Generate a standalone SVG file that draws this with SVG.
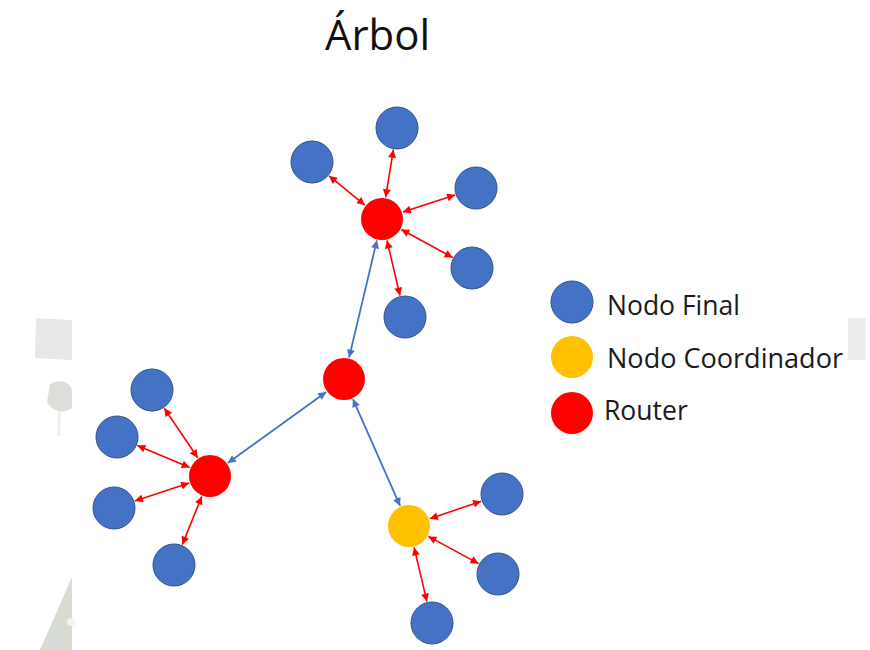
<svg xmlns="http://www.w3.org/2000/svg" width="870" height="650" viewBox="0 0 870 650">
  <style>
    .final { fill: #4472C4; stroke: #2F528F; stroke-width: 1; }
    .router { fill: #FF0000; }
    .coord { fill: #FFC000; }
    .lnk-red { stroke: #FF0000; stroke-width: 1.6; fill: none; marker-start: url(#headRed); marker-end: url(#headRed); }
    .lnk-blue { stroke: #4472C4; stroke-width: 1.8; fill: none; marker-start: url(#headBlue); marker-end: url(#headBlue); }
    .title { font-family: "Open Sans", "Liberation Sans", sans-serif; font-size: 42px; fill: #111; }
    .legend { font-family: "Open Sans", "Liberation Sans", sans-serif; font-size: 26.5px; fill: #1a1a1a; }
  </style>
  <defs>
    <marker id="headRed" viewBox="0 0 10 10" refX="10" refY="5" markerUnits="userSpaceOnUse" markerWidth="9" markerHeight="8" orient="auto-start-reverse">
      <path d="M0,0 L10,5 L0,10 z" fill="#FF0000"/>
    </marker>
    <marker id="headBlue" viewBox="0 0 10 10" refX="10" refY="5" markerUnits="userSpaceOnUse" markerWidth="10" markerHeight="8" orient="auto-start-reverse">
      <path d="M0,0 L10,5 L0,10 z" fill="#4472C4"/>
    </marker>
  </defs>

  <rect width="870" height="650" fill="#ffffff"/>

  <!-- faint backdrop remnants at the side margins -->
  <g id="backdrop">
    <path d="M36,318 L72,320 L72,360 L35,358 z" fill="#e8e9e6"/>
    <path d="M50,384 C60,378 72,382 72,392 L72,408 C64,414 52,412 47,402 z" fill="#dcdfd9"/>
    <path d="M58,412 L61,412 L60,436 L57,436 z" fill="#eef0ec"/>
    <path d="M72,577 L72,650 L40,650 z" fill="#d6dcd4"/>
    <circle cx="71" cy="622" r="4" fill="#f2f4f1"/>
    <rect x="848" y="318" width="18" height="42" fill="#ececec"/>
  </g>

  <text class="title" x="325" y="50" textLength="105" lengthAdjust="spacingAndGlyphs">Árbol</text>

  <!-- connectors -->
  <g id="connectors">
    <!-- top router to its end nodes -->
    <line class="lnk-red" x1="385.6" y1="197.3" x2="393.4" y2="149.7"/>
    <line class="lnk-red" x1="364.9" y1="205.1" x2="329.1" y2="175.9"/>
    <line class="lnk-red" x1="402.9" y1="212.1" x2="455.1" y2="194.9"/>
    <line class="lnk-red" x1="401.3" y1="229.5" x2="452.7" y2="257.5"/>
    <line class="lnk-red" x1="387.0" y1="240.4" x2="400.0" y2="295.6"/>
    <!-- central router links -->
    <line class="lnk-blue" x1="349.1" y1="357.6" x2="376.9" y2="240.4"/>
    <line class="lnk-blue" x1="326.2" y1="391.9" x2="227.8" y2="463.1"/>
    <line class="lnk-blue" x1="352.9" y1="399.1" x2="400.1" y2="505.9"/>
    <!-- left router to its end nodes -->
    <line class="lnk-red" x1="197.7" y1="457.8" x2="164.3" y2="408.2"/>
    <line class="lnk-red" x1="189.7" y1="467.5" x2="137.3" y2="445.5"/>
    <line class="lnk-red" x1="189.1" y1="483.0" x2="134.9" y2="501.0"/>
    <line class="lnk-red" x1="201.8" y1="496.4" x2="182.3" y2="544.6"/>
    <!-- coordinator to its end nodes -->
    <line class="lnk-red" x1="429.8" y1="518.8" x2="481.2" y2="501.2"/>
    <line class="lnk-red" x1="428.4" y1="536.4" x2="478.6" y2="563.6"/>
    <line class="lnk-red" x1="414.1" y1="547.4" x2="426.9" y2="601.6"/>
  </g>

  <!-- routers -->
  <g id="router-top"><circle class="router" cx="382" cy="219" r="21"/></g>
  <g id="router-center"><circle class="router" cx="344" cy="379" r="21"/></g>
  <g id="router-left"><circle class="router" cx="210" cy="476" r="21"/></g>

  <!-- coordinator -->
  <g id="coordinator"><circle class="coord" cx="409" cy="526" r="21"/></g>

  <!-- end nodes -->
  <g id="end-t1"><circle class="final" cx="397" cy="128" r="21"/></g>
  <g id="end-t2"><circle class="final" cx="312" cy="162" r="21"/></g>
  <g id="end-t3"><circle class="final" cx="476" cy="188" r="21"/></g>
  <g id="end-t4"><circle class="final" cx="472" cy="268" r="21"/></g>
  <g id="end-t5"><circle class="final" cx="405" cy="317" r="21"/></g>
  <g id="end-l1"><circle class="final" cx="152" cy="390" r="21"/></g>
  <g id="end-l2"><circle class="final" cx="117" cy="437" r="21"/></g>
  <g id="end-l3"><circle class="final" cx="114" cy="508" r="21"/></g>
  <g id="end-l4"><circle class="final" cx="174" cy="565" r="21"/></g>
  <g id="end-c1"><circle class="final" cx="502" cy="494" r="21"/></g>
  <g id="end-c2"><circle class="final" cx="498" cy="574" r="21"/></g>
  <g id="end-c3"><circle class="final" cx="432" cy="623" r="21"/></g>

  <!-- legend -->
  <g id="legend-final">
    <circle class="final" cx="572" cy="302" r="21"/>
    <text class="legend" x="607" y="315">Nodo Final</text>
  </g>
  <g id="legend-coordinator">
    <circle class="coord" cx="572" cy="357" r="21"/>
    <text class="legend" x="607" y="368" textLength="236" lengthAdjust="spacingAndGlyphs">Nodo Coordinador</text>
  </g>
  <g id="legend-router">
    <circle class="router" cx="572" cy="413" r="21"/>
    <text class="legend" x="604" y="420">Router</text>
  </g>
</svg>
